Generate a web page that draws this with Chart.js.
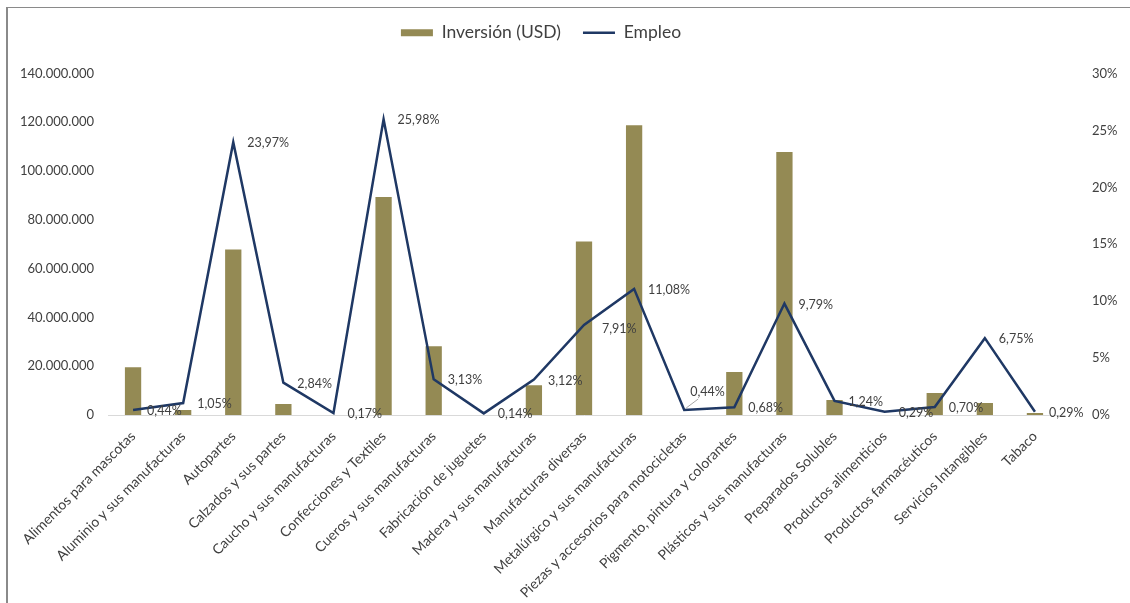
<!DOCTYPE html>
<html>
<head>
<meta charset="utf-8">
<script src="https://cdn.jsdelivr.net/npm/chart.js@4/dist/chart.umd.min.js"></script>
<style>
  body { margin: 0; background: #fff; }
  #wrap { position: relative; width: 1130px; height: 603px; }
  #frame { position: absolute; left: 6px; top: 7px; right: 0; bottom: 0; border-left: 2px solid #8a8a8a; border-top: 1px solid #8a8a8a; pointer-events: none; }
</style>
</head>
<body>
<div id="wrap">
  <canvas id="chart" width="1130" height="603"></canvas>
  <div id="frame"></div>
</div>
<script>
const sectores = [
  "Alimentos para mascotas", "Aluminio y sus manufacturas", "Autopartes", "Calzados y sus partes",
  "Caucho y sus manufacturas", "Confecciones y Textiles", "Cueros y sus manufacturas", "Fabricación de juguetes",
  "Madera y sus manufacturas", "Manufacturas diversas", "Metalúrgico y sus manufacturas",
  "Piezas y accesorios para motocicletas", "Pigmento, pintura y colorantes", "Plásticos y sus manufacturas",
  "Preparados Solubles", "Productos alimenticios", "Productos farmacéuticos", "Servicios Intangibles", "Tabaco"
];
const inversion = [
  19600000, 2000000, 67800000, 4500000, 0, 89400000, 28200000, 0, 12200000, 71100000,
  118800000, 0, 17600000, 107800000, 6100000, 0, 9000000, 4900000, 800000
];
const empleo = [
  0.44, 1.05, 23.97, 2.84, 0.17, 25.98, 3.13, 0.14, 3.12, 7.91,
  11.08, 0.44, 0.68, 9.79, 1.24, 0.29, 0.70, 6.75, 0.29
];
const ticksUSD = [0, 20000000, 40000000, 60000000, 80000000, 100000000, 120000000, 140000000];

const fuente = "Lato, 'Open Sans', sans-serif";

// etiquetas de la línea (a la derecha del punto, salvo casos puntuales)
const etiquetas = {
  id: "etiquetas",
  afterDatasetsDraw(chart) {
    const meta = chart.getDatasetMeta(1);
    const ctx = chart.ctx;
    ctx.save();
    ctx.font = "12.5px " + fuente;
    ctx.fillStyle = "#404040";
    ctx.textBaseline = "middle";
    ctx.textAlign = "left";
    meta.data.forEach((pt, i) => {
      const txt = empleo[i].toFixed(2).replace(".", ",") + "%";
      let x = pt.x + 14, y = pt.y + 1;
      if (i === 11) {
        x = pt.x + 6; y = pt.y - 18;
        ctx.strokeStyle = "#a6a6a6";
        ctx.lineWidth = 1;
        ctx.beginPath();
        ctx.moveTo(pt.x + 14, pt.y - 11);
        ctx.lineTo(pt.x + 2, pt.y - 2);
        ctx.stroke();
      }
      if (i === 9) { x = pt.x + 18; y = pt.y + 4; }
      ctx.fillText(txt, x, y);
    });
    ctx.restore();
  }
};

// espacio extra bajo la leyenda y leyenda algo a la izquierda
const margenLeyenda = {
  id: "margenLeyenda",
  beforeInit(chart) {
    const fit = chart.legend.fit;
    chart.legend.fit = function () {
      fit.bind(chart.legend)();
      this.height += 22;
    };
  },
  afterLayout(chart) {
    chart.legend.right -= 48;
  }
};

new Chart(document.getElementById("chart"), {
  data: {
    labels: sectores,
    datasets: [
      {
        type: "bar",
        label: "Inversión (USD)",
        data: inversion,
        yAxisID: "y",
        backgroundColor: "#948a54",
        borderWidth: 0,
        barPercentage: 0.65,
        categoryPercentage: 0.5,
        pointStyle: "rect",
        order: 1
      },
      {
        type: "line",
        label: "Empleo",
        data: empleo,
        yAxisID: "y1",
        borderColor: "#1f3864",
        backgroundColor: "#1f3864",
        borderWidth: 2.5,
        pointRadius: 0,
        pointStyle: "line",
        tension: 0,
        order: 0
      }
    ]
  },
  options: {
    responsive: false,
    animation: false,
    layout: { padding: { top: 2, left: 0, right: 0, bottom: 0 } },
    plugins: {
      tooltip: { enabled: false },
      legend: {
        position: "top",
        labels: {
          usePointStyle: true,
          pointStyleWidth: 32,
          boxHeight: 7,
          padding: 22,
          color: "#404040",
          font: { family: fuente, size: 17.5 },
          sort: (a, b) => a.datasetIndex - b.datasetIndex
        }
      }
    },
    scales: {
      x: {
        grid: { display: false, drawTicks: false },
        border: { color: "#d9d9d9", width: 1 },
        ticks: {
          autoSkip: false,
          maxRotation: 45,
          minRotation: 45,
          padding: 13,
          color: "#404040",
          font: { family: fuente, size: 14 }
        },
        afterFit: s => { s.height = 188; }
      },
      y: {
        position: "left",
        min: 0,
        max: 140000000,
        grid: { display: false, drawTicks: false },
        border: { display: false },
        afterBuildTicks: s => { s.ticks = ticksUSD.map(v => ({ value: v })); },
        ticks: {
          padding: 14,
          color: "#404040",
          font: { family: fuente, size: 13 },
          callback: v => String(v).replace(/\B(?=(\d{3})+(?!\d))/g, ".")
        },
        afterFit: s => { s.width = 108; }
      },
      y1: {
        position: "right",
        min: 0,
        max: 30,
        grid: { display: false, drawTicks: false },
        border: { display: false },
        ticks: {
          stepSize: 5,
          padding: 32,
          color: "#404040",
          font: { family: fuente, size: 13 },
          callback: v => v + "%"
        },
        afterFit: s => { s.width = 70; }
      }
    }
  },
  plugins: [etiquetas, margenLeyenda]
});
</script>
</body>
</html>
